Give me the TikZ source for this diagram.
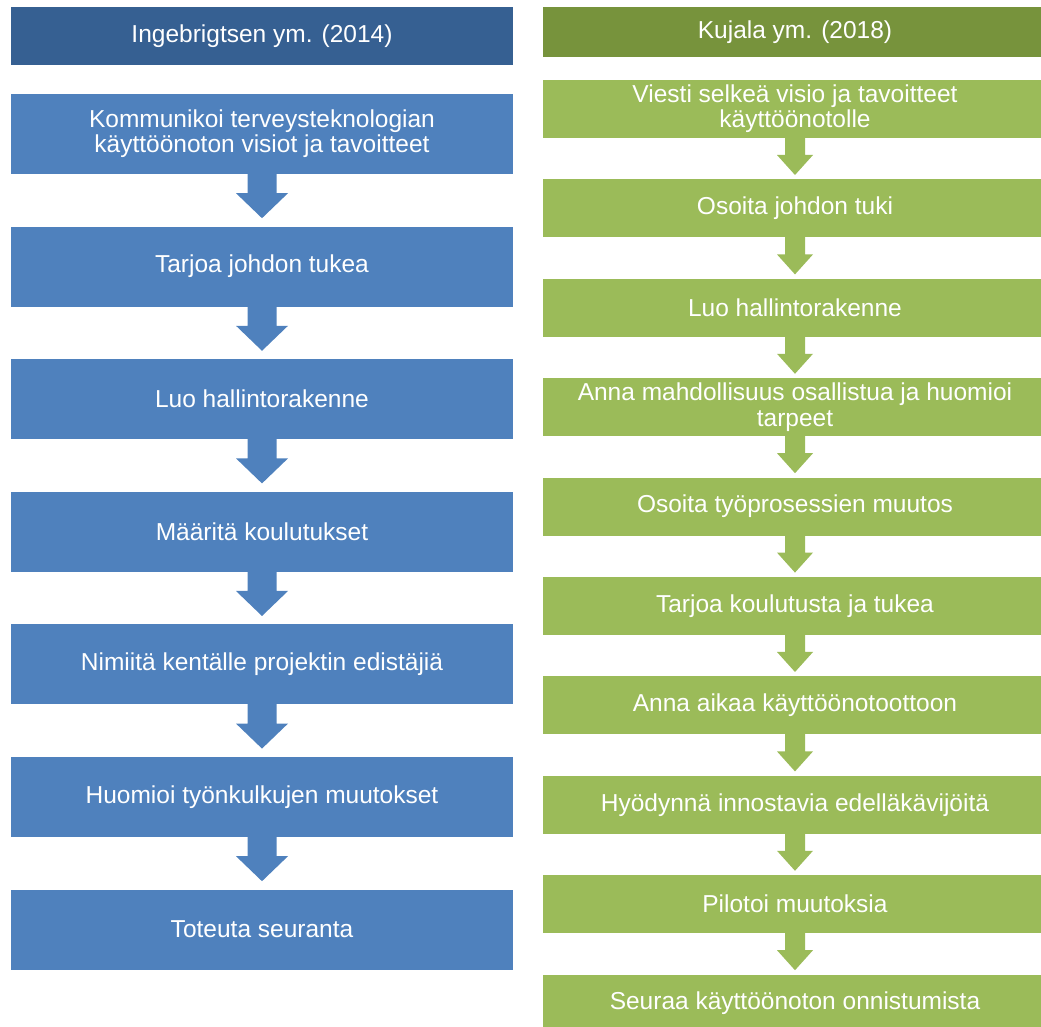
\documentclass[tikz,border=0pt]{standalone}
\usepackage{fontspec}
\setmainfont{Liberation Sans}
\usepackage{tikz}
\usetikzlibrary{calc}
\usepackage{xcolor}
\definecolor{ingehead}{HTML}{366092}
\definecolor{ingebox}{HTML}{4F81BD}
\definecolor{kujahead}{HTML}{77933C}
\definecolor{kujabox}{HTML}{9BBB59}
% block arrow from node #1 to node #2: half shaft #3, half head #4, head length #5, gap #6
\newcommand{\blockarrow}[7]{%
        \fill[#7] ($(#1.south)+(-#3,-1)$) -- ($(#2.north)+(-#3,-#6-#5)$) -- ($(#2.north)+(-#4,-#6-#5)$)
                -- ($(#2.north)+(0,-#6)$) -- ($(#2.north)+(#4,-#6-#5)$) -- ($(#2.north)+(#3,-#6-#5)$)
                -- ($(#1.south)+(#3,-1)$) -- cycle;}

\begin{document}
\begin{tikzpicture}[x=0.5pt,y=-0.5pt,
        every node/.style={text=white, align=center, inner sep=0pt, font=\fontsize{12.25}{12.6}\selectfont},
        lhead/.style={fill=ingehead, minimum width=251pt, minimum height=29pt},
        lbox/.style={fill=ingebox, minimum width=251pt, minimum height=40pt},
        rhead/.style={fill=kujahead, minimum width=252pt, minimum height=25pt},
        rbox/.style={fill=kujabox, minimum width=252pt, minimum height=29pt}]
                \useasboundingbox (0,0) rectangle (1041,1027);
                \clip (0,0) rectangle (1041,1027);
                % \draw[step=50, gray, very thin] (0,0) grid (1041,1027);
                \node[lhead] (lh) at (262,36) {Ingebrigtsen ym. (2014)};
                \node[rhead] (rh) at (795,32) {Kujala ym. (2018)};
                \foreach \t [count=\i] in {{Kommunikoi terveysteknologian\\käyttöönoton visiot ja tavoitteet},
                        Tarjoa johdon tukea, Luo hallintorakenne, Määritä koulutukset,
                        Nimiitä kentälle projektin edistäjiä, Huomioi työnkulkujen muutokset,
                        Toteuta seuranta} {
                                \node[lbox] (l\i) at (262,{134+132.6*(\i-1)}) {\t};
                    }
                \foreach \t [count=\i] in {{Viesti selkeä visio ja tavoitteet\\käyttöönotolle},
                        Osoita johdon tuki, Luo hallintorakenne,
                        {Anna mahdollisuus osallistua ja huomioi\\tarpeet},
                        Osoita työprosessien muutos, Tarjoa koulutusta ja tukea,
                        Anna aikaa käyttöönotoottoon, Hyödynnä innostavia edelläkävijöitä,
                        Pilotoi muutoksia, Seuraa käyttöönoton onnistumista} {
                                \node[rbox] (r\i) at (795,{109+99.4*(\i-1)}) {\t};
                    }
                \foreach \i [evaluate=\i as \j using int(\i+1)] in {1,...,6} {
                        \blockarrow{l\i}{l\j}{14.5}{26}{25}{8}{ingebox}
                    }
                \foreach \i [evaluate=\i as \j using int(\i+1)] in {1,...,9} {
                        \blockarrow{r\i}{r\j}{10}{18}{20}{4}{kujabox}
                    }
            \end{tikzpicture}
\end{document}
